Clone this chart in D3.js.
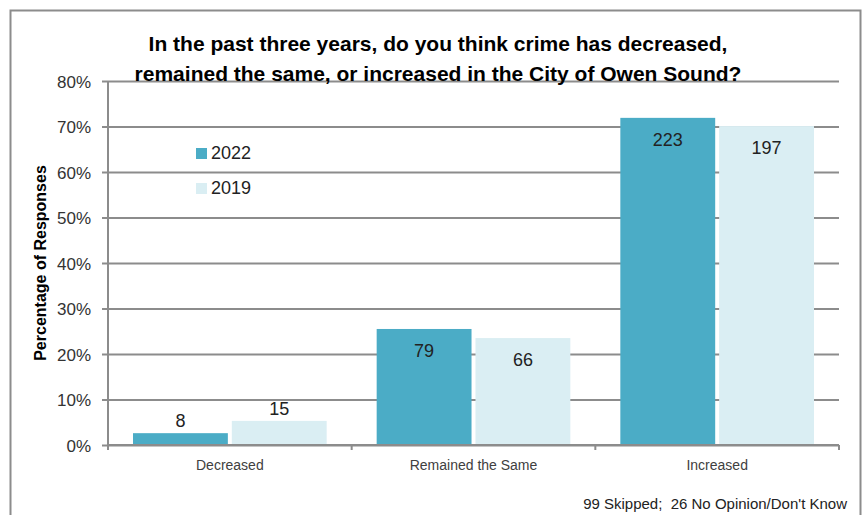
<!DOCTYPE html>
<html>
<head>
<meta charset="utf-8">
<script src="https://cdn.jsdelivr.net/npm/d3@7"></script>
<style>
  html, body { margin: 0; padding: 0; background: #fff; }
  svg { display: block; }
</style>
</head>
<body>
<svg id="chart" width="864" height="515"></svg>
<script>
// Survey responses: share of respondents per answer, with response counts
const categories = ["Decreased", "Remained the Same", "Increased"];
const seriesNames = ["2022", "2019"];
const pct2022 = [2.6, 25.5, 71.9];
const pct2019 = [5.3, 23.5, 70.1];
const count2022 = [8, 79, 223];
const count2019 = [15, 66, 197];
const yTicks = [0, 10, 20, 30, 40, 50, 60, 70, 80];
const titleLines = [
  "In the past three years, do you think crime has decreased,",
  "remained the same, or increased in the City of Owen Sound?"
];
const footnote = "99 Skipped;  26 No Opinion/Don't Know";

const colors = { "2022": "#4BACC6", "2019": "#DAEEF3" };
const font = "'Liberation Sans', Arial, sans-serif";

const svg = d3.select("#chart");
const plot = { left: 108, right: 839, top: 81, bottom: 445 };

// outer frame
svg.append("path")
  .attr("d", `M10.5,515 V10.5 H860.5 V515`)
  .attr("fill", "none").attr("stroke", "#8c8c8c").attr("stroke-width", 2);

const x = d3.scaleBand().domain(categories).range([plot.left, plot.right]);
const groupPad = 25;
const xs = d3.scaleBand().domain(seriesNames)
  .range([groupPad, x.bandwidth() - groupPad]).paddingInner(0.04).paddingOuter(0);
const y = d3.scaleLinear().domain([0, 80]).range([plot.bottom, plot.top]);

// gridlines and y ticks
const yAxis = d3.axisLeft(y).tickValues(yTicks).tickFormat(d => d + "%")
  .tickSize(-(plot.right - plot.left)).tickPadding(17);
const gy = svg.append("g").attr("transform", `translate(${plot.left},0)`).call(yAxis);
gy.select(".domain").remove();
gy.selectAll(".tick line").attr("x1", -6).attr("x2", plot.right - plot.left)
  .attr("stroke", "#8c8c8c").attr("stroke-width", 2);
gy.selectAll(".tick text").attr("font-family", font).attr("font-size", 17)
  .attr("fill", "#333").attr("dy", "0.36em");

// vertical axis line
svg.append("line").attr("x1", plot.left).attr("x2", plot.left)
  .attr("y1", plot.top).attr("y2", plot.bottom + 5)
  .attr("stroke", "#8c8c8c").attr("stroke-width", 2);

// bars
const rows = [];
categories.forEach((c, i) => {
  rows.push({ cat: c, s: "2022", v: pct2022[i], n: count2022[i] });
  rows.push({ cat: c, s: "2019", v: pct2019[i], n: count2019[i] });
});

svg.append("g").selectAll("rect").data(rows).join("rect")
  .attr("x", d => x(d.cat) + xs(d.s))
  .attr("width", xs.bandwidth())
  .attr("y", d => y(d.v))
  .attr("height", d => y(0) - y(d.v))
  .attr("fill", d => colors[d.s]);

// x axis
const xAxis = d3.axisBottom(x).tickSize(0).tickPadding(15);
const gx = svg.append("g").attr("transform", `translate(0,${plot.bottom})`).call(xAxis);
gx.select(".domain").remove();
gx.selectAll(".tick text").attr("font-family", font).attr("font-size", 14).attr("fill", "#404040");
svg.append("line").attr("x1", plot.left).attr("x2", plot.right)
  .attr("y1", plot.bottom).attr("y2", plot.bottom)
  .attr("stroke", "#8c8c8c").attr("stroke-width", 2);
const boundaries = categories.map(c => x(c)).concat([plot.right]);
svg.append("g").selectAll("line").data(boundaries).join("line")
  .attr("x1", d => d).attr("x2", d => d)
  .attr("y1", plot.bottom).attr("y2", plot.bottom + 5)
  .attr("stroke", "#8c8c8c").attr("stroke-width", 2);

// value labels: outside the bar when it is short, inside the top otherwise
svg.append("g").selectAll("text").data(rows).join("text")
  .attr("x", d => x(d.cat) + xs(d.s) + xs.bandwidth() / 2)
  .attr("y", d => (y(0) - y(d.v)) < 40 ? y(d.v) - 6 : y(d.v) + 28)
  .attr("text-anchor", "middle")
  .attr("font-family", font).attr("font-size", 18).attr("fill", "#222")
  .text(d => d.n);

// title
svg.append("g").selectAll("text").data(titleLines).join("text")
  .attr("x", 438).attr("y", (d, i) => 51 + i * 30)
  .attr("text-anchor", "middle")
  .attr("font-family", font).attr("font-weight", "bold").attr("font-size", 21)
  .attr("fill", "#000").text(d => d);

// y axis title
svg.append("text")
  .attr("transform", `translate(46,${(plot.top + plot.bottom) / 2}) rotate(-90)`)
  .attr("text-anchor", "middle")
  .attr("font-family", font).attr("font-weight", "bold").attr("font-size", 16)
  .attr("fill", "#000").text("Percentage of Responses");

// legend
const legend = svg.append("g").selectAll("g").data(seriesNames).join("g")
  .attr("transform", (d, i) => `translate(196,${148 + i * 35})`);
legend.append("rect").attr("width", 11).attr("height", 11).attr("fill", d => colors[d]);
legend.append("text").attr("x", 15).attr("y", 11)
  .attr("font-family", font).attr("font-size", 18).attr("fill", "#222").text(d => d);

// footnote
svg.append("text").attr("x", 847).attr("y", 509).attr("text-anchor", "end")
  .style("white-space", "pre")
  .attr("font-family", font).attr("font-size", 15).attr("fill", "#222").text(footnote);
</script>
</body>
</html>
